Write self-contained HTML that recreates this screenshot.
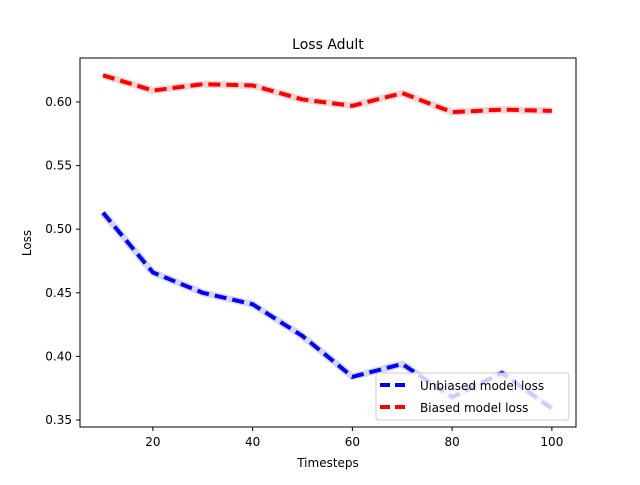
<!DOCTYPE html>
<html><head><meta charset="utf-8"><style>
body{margin:0;background:#fff}
text{font-family:"DejaVu Sans","Liberation Sans",sans-serif;fill:#000}
</style></head><body>
<svg id="chart" width="640" height="480" xmlns="http://www.w3.org/2000/svg">
<rect width="640" height="480" fill="#fff"/>
<text x="328" y="49" font-size="14" text-anchor="middle">Loss Adult</text>
<g id="plot"></g>
<rect x="80" y="58" width="496" height="369" fill="none" stroke="#000" stroke-width="1"/>
<g id="ticks"></g>
<text x="328" y="467" font-size="12" text-anchor="middle">Timesteps</text>
<text transform="translate(31,243) rotate(-90)" font-size="12" text-anchor="middle">Loss</text>
<g>
<rect x="376" y="373" width="193" height="47" rx="3" fill="#fff" fill-opacity="0.8" stroke="#ccc"/>
<line x1="380" y1="385" x2="408" y2="385" stroke="#0000ff" stroke-width="4" stroke-dasharray="10,5"/>
<text x="420" y="390" font-size="12">Unbiased model loss</text>
<line x1="380" y1="407" x2="408" y2="407" stroke="#ff0000" stroke-width="4" stroke-dasharray="10,5"/>
<text x="420" y="412" font-size="12">Biased model loss</text>
</g>
</svg>
<script>
const timesteps=[10,20,30,40,50,60,70,80,90,100];
const unbiased=[0.513,0.466,0.450,0.441,0.416,0.384,0.394,0.368,0.387,0.359];
const biased=[0.621,0.609,0.614,0.613,0.602,0.597,0.607,0.592,0.594,0.593];
const xTicks=[20,40,60,80,100];
const yTicks=[0.35,0.40,0.45,0.50,0.55,0.60];
const NS='http://www.w3.org/2000/svg';
function xs(v){return 103+(v-10)*(552-153)/80;}
function ys(v){return 102+(0.60-v)/0.05*63.6;}
const plot=document.getElementById('plot');
function series(vals,col,band,name){
  const pts=timesteps.map((t,i)=>xs(t)+','+ys(vals[i])).join(' ');
  const b=document.createElementNS(NS,'polyline');
  b.setAttribute('points',pts);b.setAttribute('fill','none');b.setAttribute('stroke',band);b.setAttribute('stroke-width','7');b.setAttribute('stroke-linejoin','round');
  
  
  plot.appendChild(b);
  const l=document.createElementNS(NS,'polyline');
  l.setAttribute('points',pts);l.setAttribute('fill','none');l.setAttribute('stroke',col);l.setAttribute('stroke-width','4');l.setAttribute('stroke-dasharray','12,6');
  
  
  plot.appendChild(l);
}
series(unbiased,'#0000ff','#d6d6f8','unbiased');
series(biased,'#ff0000','#f9d4d4','biased');
const tg=document.getElementById('ticks');
xTicks.forEach(v=>{
  const x=xs(v);
  const t=document.createElementNS(NS,'line');
  t.setAttribute('x1',x);t.setAttribute('x2',x);t.setAttribute('y1',427);t.setAttribute('y2',431);t.setAttribute('stroke','#000');
  
  
  tg.appendChild(t);
  const s=document.createElementNS(NS,'text');
  s.setAttribute('x',x);s.setAttribute('y',446);s.setAttribute('font-size','12');s.setAttribute('text-anchor','middle');s.textContent=v;
  
  
  tg.appendChild(s);
});
yTicks.forEach(v=>{
  const y=ys(v);
  const t=document.createElementNS(NS,'line');
  t.setAttribute('x1',76);t.setAttribute('x2',80);t.setAttribute('y1',y);t.setAttribute('y2',y);t.setAttribute('stroke','#000');
  
  
  tg.appendChild(t);
  const s=document.createElementNS(NS,'text');
  s.setAttribute('x',72);s.setAttribute('y',y+4);s.setAttribute('font-size','12');s.setAttribute('text-anchor','end');s.textContent=v.toFixed(2);
  
  
  tg.appendChild(s);
});
</script>
</body></html>
